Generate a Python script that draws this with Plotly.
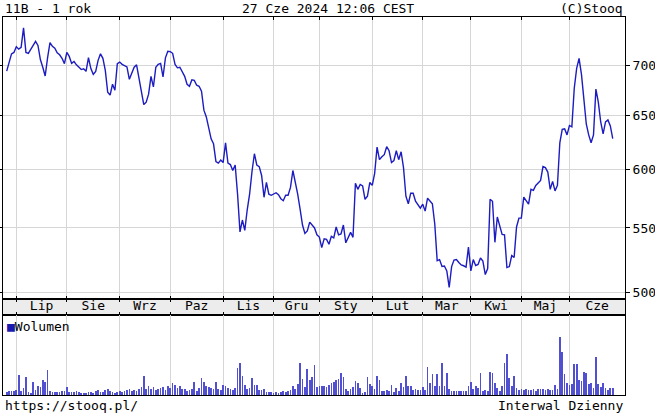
import math
import pandas as pd
import plotly.graph_objects as go

# ---------------- data ----------------
start_date = "2023-06-27"
end_date = "2024-06-27"
holidays = ["2023-08-15", "2023-11-01", "2023-12-25", "2023-12-26", "2024-01-01",
            "2024-03-29", "2024-04-01", "2024-05-01", "2024-05-03", "2024-05-30"]
month_names = ["Sty", "Lut", "Mar", "Kwi", "Maj", "Cze", "Lip", "Sie", "Wrz", "Paz", "Lis", "Gru"]

close = [694, 703, 712, 713.5, 719.5, 717, 719, 740, 713.5, 712.5,
         717, 722, 725.3, 721, 706, 698, 689, 708, 724, 720,
         718, 713, 711, 707.3, 701.8, 713.5, 709.3, 702, 704, 700.5,
         698.4, 695.6, 696.4, 693.8, 708, 696.6, 690.7, 693.8, 705.2, 712,
         707.3, 694.8, 672.6, 669.7, 680.6, 674.6, 701.8, 703.4, 701, 699.7,
         698.4, 685.6, 692.8, 698, 700.5, 687.6, 673.6, 660.4, 662.8, 670.7,
         688.7, 677.9, 698, 701, 702, 688, 707.8, 714.7, 714.4, 712.6,
         701, 697.4, 698, 692.8, 688.7, 680.6, 678.6, 685.1, 684.6, 679.6,
         678.6, 673.6, 655, 648.4, 636.1, 627.7, 623.1, 606.8, 605.5, 608.2,
         606, 624, 605.5, 604.2, 598.9, 603.8, 578.2, 546.8, 556.5, 548,
         564.8, 578.2, 598, 614, 603.8, 602.4, 594.5, 575.6, 588.4, 578.2,
         577.3, 578.2, 579.5, 577.8, 574.4, 572.7, 577.3, 577.3, 584.1, 598.9,
         589.7, 578.2, 565.6, 552.4, 545.6, 547.6, 554.8, 552.4, 550, 544.4,
         542.6, 534.2, 541.2, 540.8, 536.9, 543.2, 542, 550.8, 544.4, 545.2,
         552.4, 538, 542.4, 546.4, 542.4, 587.6, 582.4, 586.7, 585.4, 573.9,
         576.5, 588.4, 585.8, 596.3, 620, 608.6, 611.3, 613.1, 620.4, 616.7,
         606, 607.8, 616.7, 608.6, 615.8, 601.5, 576.5, 570.1, 579.1, 579.1,
         572.2, 569.7, 566.4, 569.7, 563.9, 574.8, 572.2, 570.1, 553.2, 524,
         524.8, 519.4, 519.8, 516, 503.6, 519.4, 524.4, 524.8, 522.5, 520.6,
         520, 519, 534.6, 516, 524.8, 520.2, 521, 526, 523.6, 513.3,
         517.9, 573.9, 572.2, 538.4, 559, 552, 544.8, 544.4, 518.6, 519.4,
         527.9, 526.4, 550.8, 558.1, 558.1, 575.7, 572.2, 569.7, 582.4, 581.5,
         585.8, 588.4, 590.1, 602.4, 601.5, 597.5, 582.4, 589.3, 581.1, 585.8,
         624, 636.5, 637, 631.4, 640.3, 639, 676.6, 696.9, 707.3, 690.7,
         663.8, 641.7, 631.4, 624, 631.4, 675.8, 662.8, 643.6, 632.3, 643.6,
         645.5, 639.8, 628]

volume = [3.5, 4, 4.3, 4, 5.3, 20, 4, 6.7, 17.7, 3,
          2.3, 12.7, 5, 9.3, 7.7, 15, 12.7, 25, 4, 2.7,
          3, 3, 3.3, 3.7, 4.3, 7.7, 3.5, 3.2, 3.5, 3.8,
          3.2, 2.5, 2.2, 2.5, 3.3, 2.8, 2.4, 4.5, 5, 3.4,
          2.6, 4.8, 6, 3.8, 2.7, 2.2, 3.2, 3.6, 2.8, 4,
          4.7, 6.3, 4.4, 5, 3.7, 6.5, 8, 19.3, 5.7, 9,
          6.3, 8.3, 5.3, 5.7, 6.7, 7.7, 5.5, 8.7, 7, 12,
          10, 7, 9.3, 6.3, 5.7, 4.3, 5, 6, 12.7, 3.7,
          7, 16.7, 12.7, 9.3, 8, 7.3, 5.7, 12.7, 6, 4.7,
          10, 9.3, 7.3, 6, 5, 6.7, 26.7, 32, 18.7, 10,
          6, 7.3, 16.7, 10, 10, 4.7, 5, 5.7, 3.3, 2.6,
          3, 2.3, 2.7, 2.3, 3, 4.4, 2.7, 4, 5, 9.3,
          5.7, 11, 32, 16, 7.7, 26, 15.3, 17.7, 30, 7.7,
          9.3, 8.7, 9.3, 8.3, 10, 12, 12.7, 15, 16, 21.7,
          18.3, 6, 4, 5.7, 8, 14, 11.7, 6.7, 2.3, 3,
          18, 11.3, 9, 6.3, 19, 15, 4, 4, 5, 4,
          9.7, 3, 7.3, 4, 12.3, 8, 19, 9, 9, 5,
          6.3, 5, 5, 8.3, 5.3, 28, 12.3, 21.3, 9, 21.3,
          9, 31.7, 9, 22.3, 5.7, 4, 3.7, 4.3, 4, 3.7,
          4.3, 4, 9.3, 13, 5.7, 9, 7.3, 22.3, 4, 5,
          4, 23.3, 21.7, 12.3, 7.3, 4, 9, 32, 40.7, 16.7,
          9, 19, 7.3, 5, 6, 5.3, 6, 4.7, 5.3, 6.3,
          4.3, 5.7, 6.3, 6, 5, 5.7, 4.7, 5, 10, 6,
          58, 43.3, 21.3, 12.3, 10, 10.7, 30.7, 30.7, 14.7, 14,
          23, 22.3, 10.7, 12.3, 7.3, 38, 10.7, 8.3, 11.7, 7.3,
          4.7, 7.3, 6.7]

price_ticks = [500, 550, 600, 650, 700]

# ---------------- derived (trading-day index axis) ----------------
dates = pd.bdate_range(start_date, end_date)
dates = dates[~dates.isin(pd.to_datetime(holidays))]
n = min(len(dates), len(close))
dates = dates[:n]
idx = list(range(n))

month_starts = []
month_labels = []
prev = dates[0].month
for i, d in enumerate(dates):
    if d.month != prev:
        month_starts.append(i)
        month_labels.append(month_names[d.month - 1])
        prev = d.month
x_min, x_max = -1.54, 257.1
bounds = month_starts + [x_max]
label_pos = [(bounds[k] + bounds[k + 1]) / 2 for k in range(len(month_starts))]

# ---------------- figure ----------------
W, H = 655, 415
FONT = "DejaVu Sans Mono"
LEFT, RIGHT = 3 / W, 625 / W


def py(p):
    return 1 - p / H


fig = go.Figure()
fig.add_trace(go.Scatter(x=idx, y=close[:n], mode="lines",
                         line=dict(color="#1c1cc0", width=1.4),
                         xaxis="x", yaxis="y", showlegend=False, hoverinfo="skip"))
fig.add_trace(go.Scatter(x=label_pos, y=[0.5] * len(label_pos), mode="text",
                         text=month_labels, textposition="middle center",
                         textfont=dict(family=FONT, size=13, color="#000"),
                         xaxis="x2", yaxis="y2", showlegend=False, hoverinfo="skip",
                         cliponaxis=False))
fig.add_trace(go.Bar(x=idx, y=volume[:n], width=0.7,
                     marker=dict(color="#5050d0", line=dict(width=0)),
                     xaxis="x3", yaxis="y3", showlegend=False, hoverinfo="skip"))

grid = "#d6d6d6"
xcommon = dict(range=[x_min, x_max], domain=[LEFT, RIGHT], tickvals=month_starts,
               showticklabels=False, zeroline=False, showline=True,
               linecolor="#000", linewidth=1, mirror="allticks",
               tickcolor="#000", fixedrange=True, automargin=False)

fig.update_layout(
    width=W, height=H,
    margin=dict(l=0, r=0, t=0, b=0, pad=0, autoexpand=False),
    paper_bgcolor="white", plot_bgcolor="white",
    font=dict(family=FONT, size=13, color="#000"),
    bargap=0,
    xaxis=dict(**xcommon, anchor="y", showgrid=True, gridcolor=grid, gridwidth=1,
               ticks="inside", ticklen=3),
    yaxis=dict(type="log", domain=[py(299), py(17)],
               range=[math.log10(495), math.log10(752)],
               tickvals=price_ticks, ticktext=[str(v) for v in price_ticks],
               side="right", anchor="x", showgrid=True, gridcolor=grid, gridwidth=1,
               showline=True, linecolor="#000", mirror="allticks",
               ticks="outside", ticklen=4, tickcolor="#000", automargin=False,
               fixedrange=True,
               tickfont=dict(family=FONT, size=13, color="#000"), zeroline=False),
    xaxis2=dict(**xcommon, anchor="y2", showgrid=False, ticks="inside", ticklen=3),
    yaxis2=dict(domain=[py(315), py(299)], range=[0, 1], anchor="x2", automargin=False,
                showgrid=False, showticklabels=False, showline=True, fixedrange=True,
                linecolor="#000", mirror=True, ticks="", zeroline=False),
    xaxis3=dict(**xcommon, anchor="y3", showgrid=True, gridcolor=grid, gridwidth=1,
                ticks=""),
    yaxis3=dict(domain=[py(395), py(315)], range=[0, 80], anchor="x3", automargin=False,
                showgrid=False, showticklabels=False, showline=True, fixedrange=True,
                linecolor="#000", mirror=True, ticks="", zeroline=False),
    shapes=[dict(type="rect", xref="x2 domain", yref="y2 domain",
                 x0=0, x1=1, y0=0, y1=1, fillcolor="#ececec",
                 line=dict(width=0), layer="below")],
    annotations=[
        dict(text="11B - 1 rok", x=3 / W, y=py(8), xref="paper", yref="paper",
             xanchor="left", yanchor="middle", showarrow=False),
        dict(text="27 Cze 2024 12:06 CEST", x=328 / W, y=py(8), xref="paper", yref="paper",
             xanchor="center", yanchor="middle", showarrow=False),
        dict(text="(C)Stooq", x=RIGHT, y=py(8), xref="paper", yref="paper",
             xanchor="right", yanchor="middle", showarrow=False),
        dict(text="<span style='color:#1a1ab0'>■</span>Wolumen", x=5 / W, y=py(326),
             xref="paper", yref="paper", xanchor="left", yanchor="middle", showarrow=False),
        dict(text="https://stooq.pl/", x=3 / W, y=py(405), xref="paper", yref="paper",
             xanchor="left", yanchor="middle", showarrow=False),
        dict(text="Interwal Dzienny", x=RIGHT, y=py(405), xref="paper", yref="paper",
             xanchor="right", yanchor="middle", showarrow=False),
    ],
)

fig.write_html("out.html",
               config={"displayModeBar": False, "staticPlot": True},
               post_script="document.body.style.margin='0';"
                           "document.body.style.padding='0';"
                           "document.body.style.overflow='hidden';")
